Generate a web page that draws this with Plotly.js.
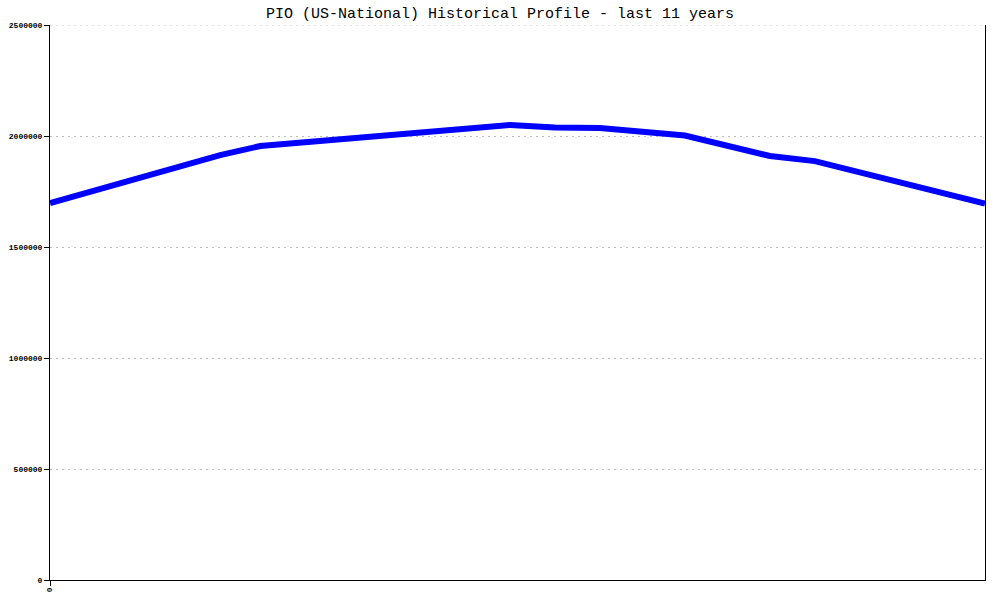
<!DOCTYPE html>
<html>
<head>
<meta charset="utf-8">
<script src="https://cdn.plot.ly/plotly-3.0.1.min.js"></script>
<style>html,body{margin:0;padding:0;background:#fff;}#chart{width:1000px;height:600px;}</style>
</head>
<body>
<div id="chart"></div>
<script>
// Position along the 11-year span (0 = start, 10 = end) and values
const years = [0, 1.82, 2.25, 4.92, 5.40, 5.88, 6.79, 7.70, 8.18, 10];
const values = [1698000, 1914000, 1955000, 2050000, 2038000, 2036000, 2002000, 1910000, 1887000, 1696000];
const xTickVals = [0];
const xTickText = ['0'];
const yMax = 2500000;
const titleText = 'PIO (US-National) Historical Profile - last 11 years';

const trace = {
  x: years,
  y: values,
  type: 'scatter',
  mode: 'lines',
  line: {color: '#0000ff', width: 6},
  hoverinfo: 'skip'
};

const layout = {
  width: 1000,
  height: 600,
  margin: {l: 50, r: 15, t: 25, b: 20},
  paper_bgcolor: '#ffffff',
  plot_bgcolor: '#ffffff',
  showlegend: false,
  title: {
    text: titleText,
    font: {family: 'Liberation Mono, Courier New, monospace', size: 15, color: '#000'},
    x: 0.5, xanchor: 'center', y: 0.978, yanchor: 'middle'
  },
  shapes: [{
    type: 'line', xref: 'paper', yref: 'y',
    x0: 0, x1: 1, y0: yMax, y1: yMax,
    line: {color: '#bbbbbb', width: 1, dash: '2px,4px'},
    layer: 'below'
  }],
  xaxis: {
    range: [0, 10],
    tickvals: xTickVals,
    ticktext: xTickText,
    tickangle: 90,
    ticks: 'outside',
    ticklen: 5,
    tickcolor: '#000',
    showline: true,
    linecolor: '#000',
    linewidth: 1,
    showgrid: false,
    zeroline: false,
    tickfont: {family: 'Liberation Mono, monospace', size: 8, color: '#000', weight: 'bold'}
  },
  yaxis: {
    range: [0, yMax],
    dtick: 500000,
    tick0: 0,
    tickformat: 'd',
    ticks: 'outside',
    ticklen: 5,
    tickcolor: '#000',
    showline: true,
    mirror: true,
    linecolor: '#000',
    linewidth: 1,
    showgrid: true,
    gridcolor: '#bbbbbb',
    griddash: '2px,4px',
    gridwidth: 1,
    zeroline: false,
    tickfont: {family: 'Liberation Mono, monospace', size: 8, color: '#000', weight: 'bold'}
  }
};

Plotly.newPlot('chart', [trace], layout, {staticPlot: true, displayModeBar: false});
</script>
</body>
</html>
